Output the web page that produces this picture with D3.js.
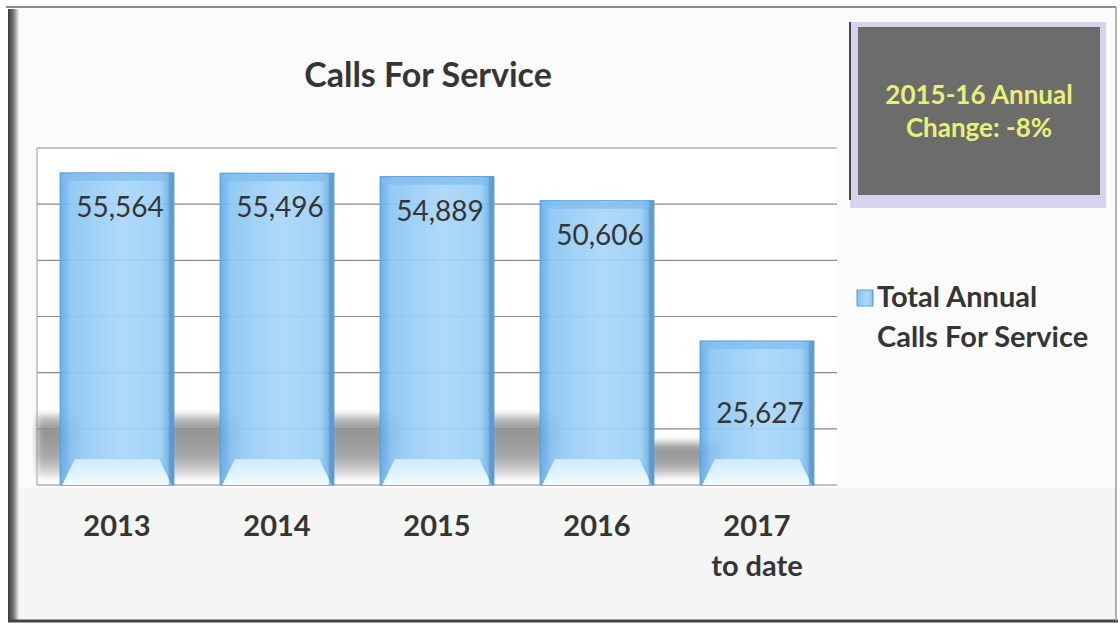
<!DOCTYPE html>
<html>
<head>
<meta charset="utf-8">
<script src="https://cdn.jsdelivr.net/npm/d3@7"></script>
<style>
  body { margin: 0; background: #fff; }
  svg { display: block; font-family: Lato, "Open Sans", sans-serif; }
</style>
</head>
<body>
<svg id="chart" width="1120" height="628"></svg>
<script>
const categories = ["2013", "2014", "2015", "2016", "2017\nto date"];
const values = [55564, 55496, 54889, 50606, 25627];
const yTicks = [0, 10000, 20000, 30000, 40000, 50000, 60000];
const seriesName = ["Total Annual", "Calls For Service"];
const noteLines = ["2015-16 Annual", "Change: -8%"];

const width = 1120,
  height = 628,
  plot = { left: 37, right: 837, top: 148, bottom: 485 },
  textColor = "#353535";

const svg = d3.select("#chart");
const defs = svg.append("defs");

// bar body: darker blue edges, lighter middle
const barGrad = defs.append("linearGradient").attr("id", "barGrad")
  .attr("x1", 0).attr("x2", 1).attr("y1", 0).attr("y2", 0);
[[0, "#5fa9ea"], [0.1, "#8cc6f4"], [0.55, "#a9d6f9"], [0.88, "#9bcff7"], [1, "#5c9fd8"]]
  .forEach(([o, c]) => barGrad.append("stop").attr("offset", o).attr("stop-color", c));

const bevelGrad = defs.append("linearGradient").attr("id", "bevelGrad")
  .attr("x1", 0).attr("x2", 0).attr("y1", 0).attr("y2", 1);
[[0, "#cfeafd"], [1, "#f2faff"]]
  .forEach(([o, c]) => bevelGrad.append("stop").attr("offset", o).attr("stop-color", c));

const shadowGrad = defs.append("linearGradient").attr("id", "shadowGrad")
  .attr("x1", 0).attr("x2", 0).attr("y1", 0).attr("y2", 1);
[[0, "#999", 0.5], [0.25, "#8c8c8c", 0.95], [0.7, "#a0a0a0", 0.9], [1, "#d0d0d0", 0.6]]
  .forEach(([o, c, a]) => shadowGrad.append("stop").attr("offset", o)
    .attr("stop-color", c).attr("stop-opacity", a));

const frameGrad = defs.append("linearGradient").attr("id", "frameGrad")
  .attr("x1", 0).attr("x2", 1).attr("y1", 0).attr("y2", 0);
[[0, "#3a3a3a"], [0.5, "#777"], [1, "#f2f2f2"]]
  .forEach(([o, c]) => frameGrad.append("stop").attr("offset", o).attr("stop-color", c));

defs.append("filter").attr("id", "blur").attr("x", "-20%").attr("y", "-20%")
  .attr("width", "140%").attr("height", "140%")
  .append("feGaussianBlur").attr("stdDeviation", 3);

// chart frame
svg.append("rect").attr("x", 18).attr("y", 8).attr("width", 1098).attr("height", 612)
  .attr("fill", "#fbfbfb");
svg.append("rect").attr("x", 18).attr("y", 488).attr("width", 1098).attr("height", 132)
  .attr("fill", "#f5f5f5");
svg.append("line").attr("x1", 6).attr("x2", 1116).attr("y1", 7).attr("y2", 7)
  .attr("stroke", "#666").attr("stroke-width", 1.5);
svg.append("rect").attr("x", 8).attr("y", 9).attr("width", 11).attr("height", 611)
  .attr("fill", "url(#frameGrad)");
svg.append("line").attr("x1", 8).attr("x2", 1118).attr("y1", 621).attr("y2", 621)
  .attr("stroke", "#444").attr("stroke-width", 3);
svg.append("line").attr("x1", 1116).attr("x2", 1116).attr("y1", 7).attr("y2", 621)
  .attr("stroke", "#999").attr("stroke-width", 1.5);

const x = d3.scaleBand().domain(categories)
  .range([plot.left, plot.right]).paddingInner(0.29).paddingOuter(0.145);
const y = d3.scaleLinear().domain([0, 60000]).range([plot.bottom, plot.top]);
const bw = x.bandwidth();

// plot wall
svg.append("rect").attr("x", plot.left).attr("y", plot.top)
  .attr("width", plot.right - plot.left).attr("height", plot.bottom - plot.top)
  .attr("fill", "#fff");

// gridlines
svg.append("g").selectAll("line").data(yTicks).join("line")
  .attr("x1", plot.left).attr("x2", plot.right)
  .attr("y1", d => y(d)).attr("y2", d => y(d))
  .attr("stroke", "#8a8a8a").attr("stroke-width", 1.2);
svg.append("line").attr("x1", plot.left).attr("x2", plot.left)
  .attr("y1", plot.top).attr("y2", plot.bottom)
  .attr("stroke", "#aaa").attr("stroke-width", 1.2);

// floor shadow cast by the bars
const shadowTop = d => Math.max(y(d) + 100, y(12500));
svg.append("g").attr("filter", "url(#blur)")
  .selectAll("rect").data(values).join("rect")
  .attr("x", (d, i) => Math.max(plot.left, x(categories[i]) - (x.step() - bw) - 4))
  .attr("y", shadowTop)
  .attr("width", (d, i) => x(categories[i]) + 20 - Math.max(plot.left, x(categories[i]) - (x.step() - bw) - 4))
  .attr("height", d => y(0) - shadowTop(d) - 8)
  .attr("fill", "url(#shadowGrad)");

// bars
const bars = svg.append("g").selectAll("g").data(values).join("g")
  .attr("transform", (d, i) => `translate(${x(categories[i])},0)`);
bars.append("rect")
  .attr("y", d => y(d)).attr("width", bw).attr("height", d => y(0) - y(d))
  .attr("fill", "url(#barGrad)").attr("fill-opacity", 0.92)
  .attr("stroke", "#5b9fd9").attr("stroke-width", 1.2);
// top bevel
bars.append("rect")
  .attr("x", 2).attr("y", d => y(d) + 1).attr("width", bw - 4).attr("height", 7)
  .attr("fill", "#7dbcf0").attr("opacity", 0.7);
// bottom bevel
bars.append("path")
  .attr("d", `M${2},${y(0)} L${bw * 0.13},${y(0) - 26} L${bw * 0.87},${y(0) - 26} L${bw - 2},${y(0)} Z`)
  .attr("fill", "url(#bevelGrad)");
// right edge
bars.append("rect")
  .attr("x", bw - 5).attr("y", d => y(d)).attr("width", 5).attr("height", d => y(0) - y(d))
  .attr("fill", "#4f8fc9").attr("opacity", 0.55);

// value labels
bars.append("text")
  .attr("x", bw / 2 + 3)
  .attr("y", d => d < 30000 ? (y(d) + y(0)) / 2 : y(d) + 34)
  .attr("dy", "0.35em")
  .attr("text-anchor", "middle")
  .attr("font-size", 28)
  .attr("fill", textColor)
  .text(d => d3.format(",")(d));

// category labels
const xl = svg.append("g").selectAll("text").data(categories).join("text")
  .attr("x", d => x(d) + bw / 2)
  .attr("y", 536)
  .attr("text-anchor", "middle")
  .attr("font-size", 29)
  .attr("font-weight", "bold")
  .attr("fill", textColor);
xl.selectAll("tspan").data(d => d.split("\n")).join("tspan")
  .attr("x", function() { return d3.select(this.parentNode).attr("x"); })
  .attr("dy", (d, i) => i === 0 ? 0 : 40)
  .text(d => d);

// title
svg.append("text").attr("x", 428).attr("y", 87)
  .attr("text-anchor", "middle").attr("font-size", 34).attr("font-weight", "bold")
  .attr("fill", textColor).text("Calls For Service");

// legend
svg.append("rect").attr("x", 857).attr("y", 290).attr("width", 16).attr("height", 16)
  .attr("fill", "url(#barGrad)").attr("stroke", "#5b9fd9");
svg.append("text").attr("x", 877).attr("y", 307)
  .attr("font-size", 29).attr("font-weight", "bold").attr("fill", textColor)
  .selectAll("tspan").data(seriesName).join("tspan")
  .attr("x", 877).attr("dy", (d, i) => i === 0 ? 0 : 40).text(d => d);

// annotation box
svg.append("rect").attr("x", 850).attr("y", 22).attr("width", 256).attr("height", 186)
  .attr("fill", "#d6d3ee");
svg.append("rect").attr("x", 858).attr("y", 27).attr("width", 242).attr("height", 168)
  .attr("fill", "#6c6d6a");
svg.append("line").attr("x1", 850).attr("x2", 850).attr("y1", 22).attr("y2", 200)
  .attr("stroke", "#444").attr("stroke-width", 2);
svg.append("text").attr("x", 979).attr("y", 104)
  .attr("text-anchor", "middle").attr("font-size", 26).attr("font-weight", "bold")
  .attr("fill", "#e9f07a")
  .selectAll("tspan").data(noteLines).join("tspan")
  .attr("x", 979).attr("dy", (d, i) => i === 0 ? 0 : 33).text(d => d);
</script>
</body>
</html>
